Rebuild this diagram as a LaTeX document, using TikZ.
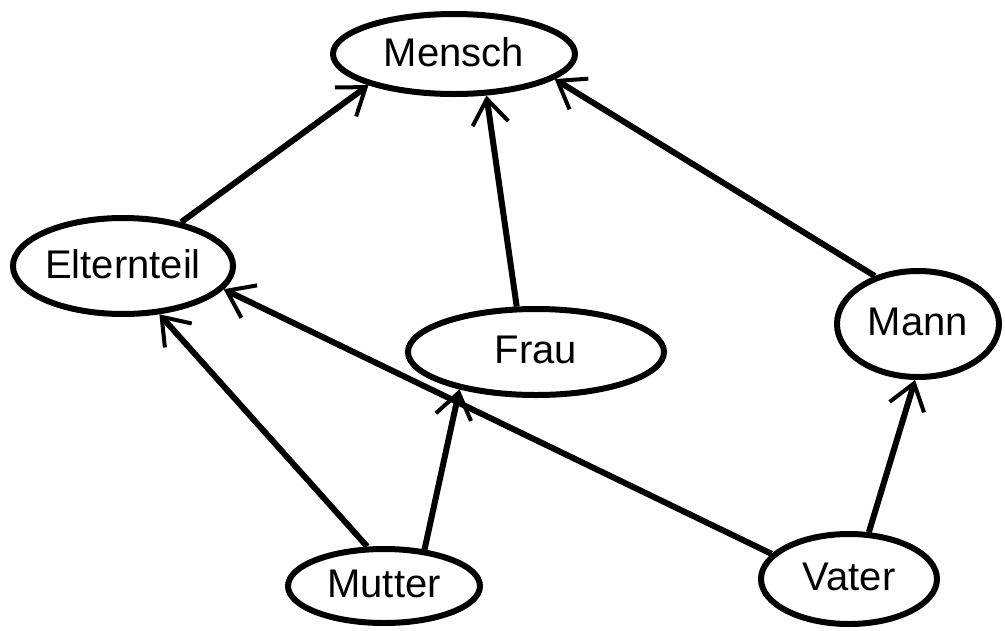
\documentclass[tikz,border=0pt]{standalone}
\usepackage{fontspec}
\setmainfont{Liberation Sans}
\usetikzlibrary{arrows.meta,shapes.geometric}
\newcommand{\liftlabel}[1]{\raisebox{4pt}{#1}}
\begin{document}
\begin{tikzpicture}[x=1pt,y=-1pt,
  ent/.style={draw,ellipse,line width=6pt,inner sep=0pt,font=\fontsize{40}{44}\selectfont},
  rel/.style={line width=6pt,-{Straight Barb[length=25pt,width=36pt,line width=4pt]}}]
\useasboundingbox (0,0) rectangle (1005,630);
\node[ent,minimum width=242pt,minimum height=80pt] (mensch) at (454,54) {\liftlabel{Mensch}};
\node[ent,minimum width=214pt,minimum height=96pt] (eltern) at (123,266) {\liftlabel{Elternteil}};
\node[ent,minimum width=256pt,minimum height=86pt] (frau) at (536,352) {\liftlabel{Frau}};
\node[ent,minimum width=162pt,minimum height=106pt] (mann) at (918,324) {\liftlabel{Mann}};
\node[ent,minimum width=192pt,minimum height=74pt] (mutter) at (384,586) {\liftlabel{Mutter}};
\node[ent,minimum width=176pt,minimum height=90pt] (vater) at (849,579) {\liftlabel{Vater}};
\draw[rel] (eltern.37) -- (mensch.200);
\draw[rel] (frau.113) -- (mensch.308);
\draw[rel] (mann.132) -- (mensch.346);
\draw[rel] (mutter.113) -- (eltern.307);
\draw[rel] (mutter.42) -- (frau.206);
\draw[rel] (vater.162) -- (eltern.347);
\draw[rel] (vater.67) -- (mann.267);
\end{tikzpicture}
\end{document}
